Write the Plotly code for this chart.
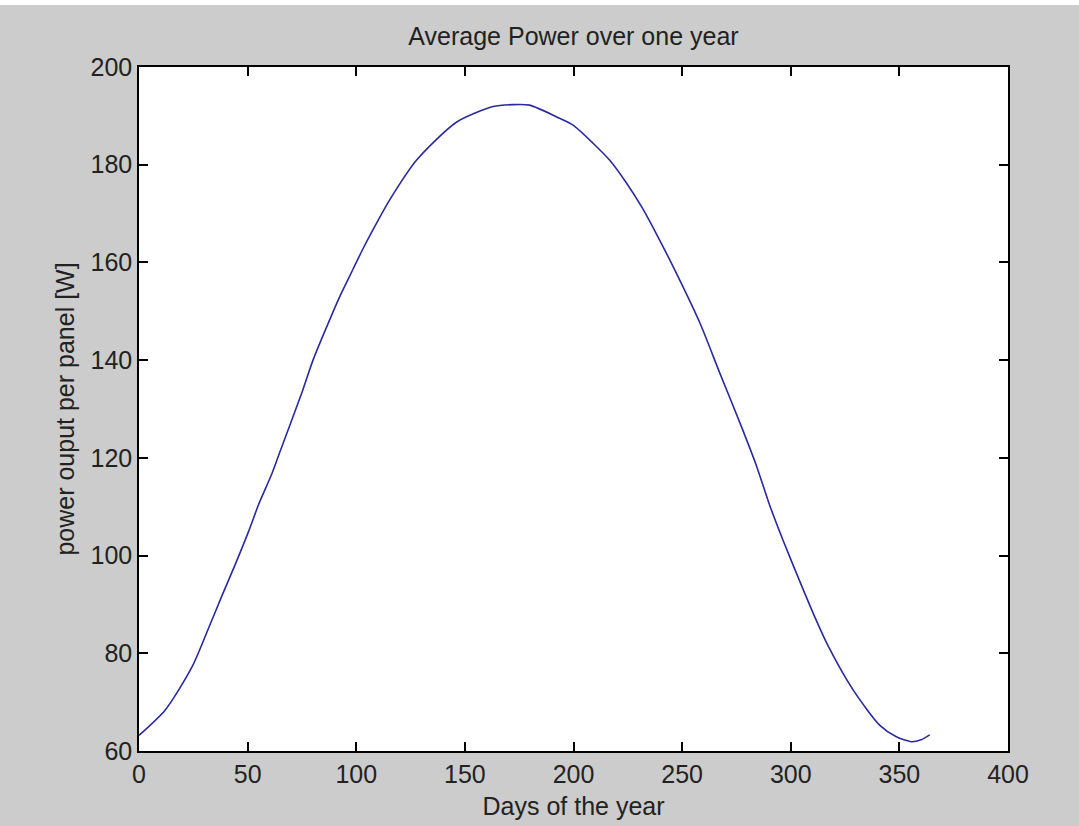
import plotly.graph_objects as go

# Values
days = [0, 12.1, 24.4, 32.9, 38.2, 44.4, 50.5, 55.1, 61.2, 65.1, 74.7, 80.1, 86.2,
        92.4, 98.5, 103.1, 109.3, 115.4, 127.7, 146.1, 163, 172, 179.8, 193.6, 199.8,
        209, 216.7, 224.3, 232, 238.2, 245.8, 258.1, 267.3, 277.3, 284.2, 290.3,
        296.4, 302.6, 311, 317.2, 328.7, 340.9, 348.6, 355.5, 360, 364]
power = [63.2, 68.4, 77.2, 86.1, 91.8, 98.3, 105.0, 110.5, 116.8, 121.5, 133.0, 140.0,
         146.6, 153.0, 158.6, 162.8, 168.0, 172.8, 180.9, 188.7, 191.9, 192.3, 192.2,
         189.5, 188.1, 184.4, 180.9, 176.3, 170.9, 165.8, 159.2, 147.7, 137.4, 126.4,
         118.4, 110.3, 103.2, 96.4, 87.5, 81.5, 72.5, 65.3, 62.9, 61.9, 62.3, 63.3]

x_ticks = [0, 50, 100, 150, 200, 250, 300, 350, 400]
y_ticks = [60, 80, 100, 120, 140, 160, 180, 200]

FONT = "Liberation Sans, Arial, sans-serif"
TXT = "#222222"

fig = go.Figure()
fig.add_trace(go.Scatter(x=days, y=power, mode="lines",
                         line=dict(color="#2a2a9e", width=1.6, shape="spline", smoothing=0.7),
                         showlegend=False, hoverinfo="x+y"))

axis_common = dict(showgrid=False, zeroline=False, showline=True, linecolor="#000000",
                   linewidth=1.5, mirror="ticks", ticks="inside", ticklen=9,
                   tickwidth=1.5, tickcolor="#000000", automargin=False,
                   tickfont=dict(family=FONT, size=25, color=TXT))

fig.update_layout(
    width=1079, height=826,
    paper_bgcolor="#cccccc", plot_bgcolor="#ffffff",
    margin=dict(l=139, r=71, t=67, b=75),
    title=dict(text="Average Power over one year", x=0.5, xref="paper", xanchor="center",
               y=1 - 36 / 826, yref="container", yanchor="middle",
               font=dict(family=FONT, size=25, color=TXT)),
    xaxis=dict(range=[0, 400], tickvals=x_ticks, ticktext=[str(v) for v in x_ticks],
               title=dict(text="Days of the year", standoff=11,
                          font=dict(family=FONT, size=25, color=TXT)),
               **axis_common),
    yaxis=dict(range=[60, 200], tickvals=y_ticks, ticktext=[str(v) for v in y_ticks],
               title=dict(text="power ouput per panel [W]", standoff=9,
                          font=dict(family=FONT, size=25, color=TXT)),
               **axis_common),
    shapes=[dict(type="rect", xref="paper", yref="paper", x0=-0.2, x1=1.2,
                 y0=1 + (67 - 5) / 684, y1=1 + 67 / 684 + 0.01, fillcolor="#ffffff",
                 line=dict(width=0), layer="above")],
)

fig.write_html("out.html", config={"displayModeBar": False},
               post_script="document.body.style.margin='0';document.body.style.overflow='hidden';")
